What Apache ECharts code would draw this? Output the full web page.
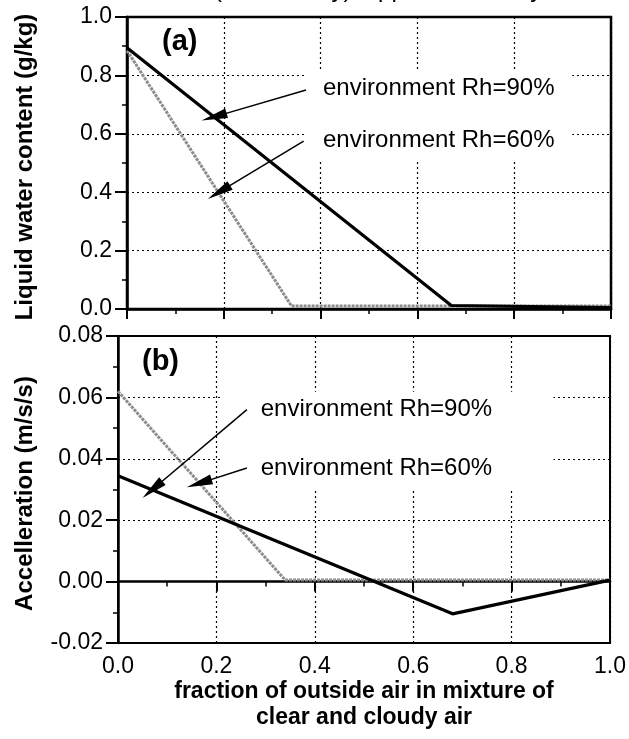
<!DOCTYPE html>
<html>
<head>
<meta charset="utf-8">
<script src="https://cdn.jsdelivr.net/npm/echarts@6/dist/echarts.min.js"></script>
<style>html,body{margin:0;padding:0;background:#fff}#c{width:629px;height:739px}</style>
</head>
<body>
<div id="c"></div>
<script>
// ---- data ----
// panel (a): liquid water content (g/kg) vs fraction of outside air
const lwcRh90 = [[0, 0.895], [0.67, 0.012], [1.0, 0.005]];
const lwcRh60 = [[0, 0.885], [0.34, 0.010], [1.0, 0.010]];
// panel (b): acceleration (m/s/s) vs fraction of outside air
const accRh90 = [[0, 0.0345], [0.68, -0.0105], [1.0, 0.0005]];
const accRh60 = [[0, 0.062], [0.34, 0.0005], [1.0, 0.0005]];
const labelRh90 = 'environment Rh=90%';
const labelRh60 = 'environment Rh=60%';

const FONT = '"Liberation Sans", Arial, Helvetica, sans-serif';
const chart = echarts.init(document.getElementById('c'), null, {renderer: 'canvas'});

function xAx(grid, showLabels) {
  return {
    type: 'value', gridIndex: grid, min: 0, max: 1, interval: 0.2,
    axisLine: {show: true, lineStyle: {color: '#000', width: 2.5}},
    axisTick: {show: true, inside: false, length: 10, lineStyle: {color: '#000', width: 2}},
    minorTick: {show: true, splitNumber: 2, length: 5, lineStyle: {color: '#000', width: 1.5}},
    splitLine: {show: true, lineStyle: {color: '#000', type: [2, 3], width: 1.2}},
    axisLabel: {show: showLabels, color: '#000', fontFamily: FONT, fontSize: 23, margin: 12,
      formatter: v => v.toFixed(1)},
    name: showLabels ? 'fraction of outside air in mixture of\nclear and cloudy air' : '',
    nameLocation: 'middle', nameGap: 36,
    nameTextStyle: {color: '#000', fontFamily: FONT, fontWeight: 'bold', fontSize: 23, lineHeight: 26}
  };
}
function yAx(grid, min, max, step, digits) {
  return {
    type: 'value', gridIndex: grid, min: min, max: max, interval: step,
    axisLine: {show: true, lineStyle: {color: '#000', width: 2.5}},
    axisTick: {show: true, inside: false, length: 12, lineStyle: {color: '#000', width: 2}},
    minorTick: {show: true, splitNumber: 2, length: 5, lineStyle: {color: '#000', width: 1.5}},
    splitLine: {show: true, lineStyle: {color: '#000', type: [2, 3], width: 1.2}},
    axisLabel: {color: '#000', fontFamily: FONT, fontSize: 23, margin: 15,
      formatter: v => v.toFixed(digits)}
  };
}

const arrowLine = {color: '#000', width: 1.5, type: 'solid'};
function arrow(from, to) {
  return [{coord: from, symbol: 'none'}, {coord: to, symbol: 'triangle', symbolSize: [10, 26]}];
}

const option = {
  animation: false,
  backgroundColor: '#fff',
  grid: [
    {left: 127, top: 17, width: 484, height: 292, show: true, borderColor: '#000', borderWidth: 2.5, backgroundColor: 'transparent'},
    {left: 118, top: 336, width: 493, height: 307, show: true, borderColor: '#000', borderWidth: 2, backgroundColor: 'transparent'}
  ],
  xAxis: [xAx(0, false), xAx(1, true)],
  yAxis: [yAx(0, 0, 1, 0.2, 1), yAx(1, -0.02, 0.08, 0.02, 2)],
  series: [
    {type: 'line', name: 'a60', xAxisIndex: 0, yAxisIndex: 0, data: lwcRh60, symbol: 'none', z: 3,
      lineStyle: {color: '#8c8c8c', width: 3, type: [3, 1]}},
    {type: 'line', name: 'a90', xAxisIndex: 0, yAxisIndex: 0, data: lwcRh90, symbol: 'none', z: 4,
      lineStyle: {color: '#000', width: 3.2},
      markLine: {silent: true, z: 6, lineStyle: arrowLine, label: {show: false},
        data: [arrow([0.37, 0.75], [0.18, 0.658]), arrow([0.365, 0.575], [0.19, 0.40])]}},
    {type: 'line', name: 'b60', xAxisIndex: 1, yAxisIndex: 1, data: accRh60, symbol: 'none', z: 3,
      lineStyle: {color: '#8c8c8c', width: 3, type: [3, 1]}},
    {type: 'line', name: 'b90', xAxisIndex: 1, yAxisIndex: 1, data: accRh90, symbol: 'none', z: 4,
      lineStyle: {color: '#000', width: 3.2},
      markLine: {silent: true, z: 6, lineStyle: arrowLine, label: {show: false},
        data: [arrow([0.262, 0.056], [0.07, 0.030]), arrow([0.262, 0.037], [0.165, 0.032])]}}
  ]
};
chart.setOption(option);

// ---- annotations placed in data space ----
function px(g, p) { return chart.convertToPixel({gridIndex: g}, p); }
function box(g, x0, y0, x1, y1) {
  const a = px(g, [x0, y0]), b = px(g, [x1, y1]);
  return {type: 'rect', z: 1, silent: true,
    shape: {x: Math.min(a[0], b[0]), y: Math.min(a[1], b[1]), width: Math.abs(b[0] - a[0]), height: Math.abs(b[1] - a[1])},
    style: {fill: '#fff'}};
}
function label(g, p, txt, size, bold) {
  const q = px(g, p);
  return {type: 'text', z: 10, silent: true, x: q[0], y: q[1],
    style: {text: txt, fill: '#000', font: (bold ? 'bold ' : '') + size + 'px ' + FONT, align: 'left', verticalAlign: 'middle'}};
}
const gt = chart.getModel().getComponent('grid', 0).coordinateSystem.getRect();
const gb = chart.getModel().getComponent('grid', 1).coordinateSystem.getRect();
chart.setOption({graphic: [
  box(0, 0.37, 0.82, 0.92, 0.51),
  box(1, 0.21, 0.0618, 0.885, 0.030),
  label(0, [0.405, 0.757], labelRh90, 24, false),
  label(0, [0.405, 0.579], labelRh60, 24, false),
  label(1, [0.29, 0.056], labelRh90, 24, false),
  label(1, [0.29, 0.037], labelRh60, 24, false),
  {type: 'text', z: 10, x: gt.x + 35, y: 42, style: {text: '(a)', fill: '#000', font: 'bold 29px ' + FONT, verticalAlign: 'middle'}},
  {type: 'text', z: 10, x: gb.x + 24, y: 362, style: {text: '(b)', fill: '#000', font: 'bold 29px ' + FONT, verticalAlign: 'middle'}},
  {type: 'text', z: 10, x: 25, y: gt.y + gt.height / 2 + 4, rotation: Math.PI / 2,
    style: {text: 'Liquid water content (g/kg)', fill: '#000', font: 'bold 24px ' + FONT, align: 'center', verticalAlign: 'middle'}},
  {type: 'text', z: 10, x: 25, y: gb.y + gb.height / 2 + 4, rotation: Math.PI / 2,
    style: {text: 'Accelleration (m/s/s)', fill: '#000', font: 'bold 24px ' + FONT, align: 'center', verticalAlign: 'middle'}},
  {type: 'text', z: 10, x: 214, y: 2, style: {text: '(horizontally), applied vertically', fill: '#000', font: '24px ' + FONT, verticalAlign: 'bottom'}}
]});
</script>
</body>
</html>
